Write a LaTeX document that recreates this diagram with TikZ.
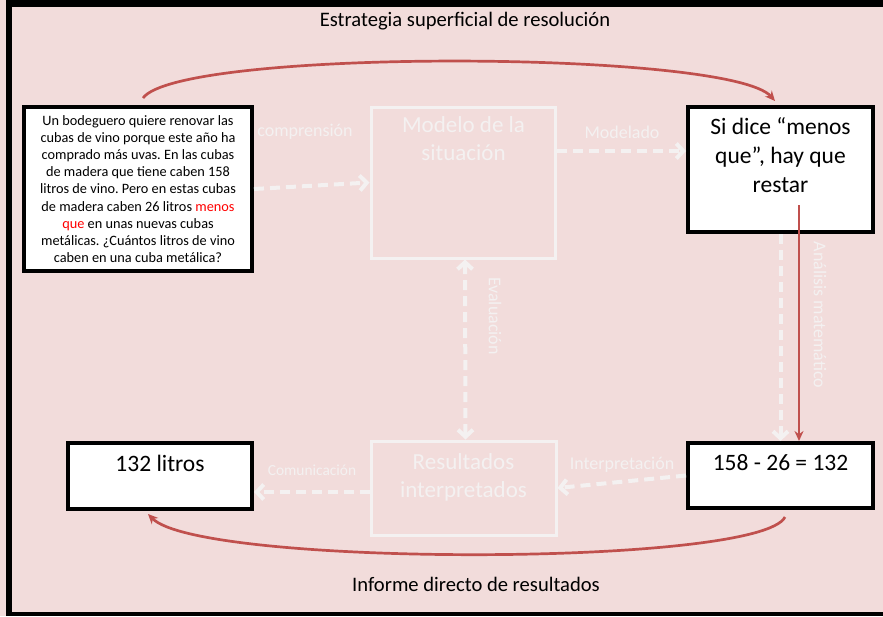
\documentclass[tikz,border=0pt]{standalone}
\usepackage{fontspec}
\setmainfont{Carlito}
\usetikzlibrary{arrows.meta}
\definecolor{bgpink}{HTML}{F2DCDB}
\definecolor{paleline}{HTML}{F4F1F1}
\definecolor{accentred}{HTML}{C0504D}
\definecolor{alertred}{HTML}{FF0000}
\frenchspacing
\begin{document}
\begin{tikzpicture}[x=1pt,y=-1pt,
  whitebox/.style={draw=black, line width=4pt, fill=white, inner sep=0pt},
  palebox/.style={draw=paleline, line width=3pt, inner sep=0pt},
  boxtext/.style={inner sep=0pt, align=center, font=\fontsize{23.5}{29}\selectfont},
  paletitle/.style={inner sep=0pt, align=center, text=paleline, font=\fontsize{23}{28}\selectfont},
  palelabel/.style={inner sep=0pt, text=paleline, font=\fontsize{18}{22}\selectfont},
  caption/.style={inner sep=0pt, font=\fontsize{20.6}{25}\selectfont},
  palearrow/.style={draw=paleline, line width=4pt, dash pattern=on 10pt off 6pt,
    -{Straight Barb[length=7pt,width=15pt]}},
  redarrow/.style={draw=accentred, line width=2.7pt, -{Stealth[length=10pt,width=9pt]}}
]
\useasboundingbox (0,0) rectangle (883,616);
% background and frame
\fill[bgpink] (0,0) rectangle (883,616);
\fill[black] (6,0) rectangle (883,7);
\fill[black] (6,0) rectangle (12,616);
\fill[black] (6,612) rectangle (883,616);

% captions
\node[caption] (title) at (465,21) {Estrategia superficial de resolución};
\node[caption] (report) at (476,584) {Informe directo de resultados};

% problem statement
\node[whitebox, minimum width=228pt, minimum height=164pt, align=center,
      font=\fontsize{14.3}{17.2}\selectfont] (prob) at (138,189)
  {Un bodeguero quiere renovar las\\
   cubas de vino porque este año ha\\
   comprado más uvas. En las cubas\\
   de madera que tiene caben 158\\
   litros de vino. Pero en estas cubas\\
   de madera caben 26 litros {\color{alertred}menos}\\
   {\color{alertred}que} en unas nuevas cubas\\
   metálicas. ¿Cuántos litros de vino\\
   caben en una cuba metálica?};

% pale modelling cycle boxes
\node[palebox, minimum width=184pt, minimum height=151pt] (model) at (463,182.5) {};
\node[paletitle] (modeltext) at (463.5,139) {Modelo de la\\situación};
\node[palebox, minimum width=185pt, minimum height=94pt] (results) at (463.5,488) {};
\node[paletitle] (resultstext) at (463.5,477) {Resultados\\interpretados};

% white boxes
\node[whitebox, minimum width=185pt, minimum height=125pt] (rule) at (780.5,169.5) {};
\node[boxtext] (ruletext) at (780.5,155) {Si dice “menos\\que”, hay que\\restar};
\node[whitebox, minimum width=185pt, minimum height=65pt] (calc) at (780.5,475.5) {};
\node[boxtext] (calctext) at (780.5,463) {158 - 26 = 132};
\node[whitebox, minimum width=184pt, minimum height=66pt] (answer) at (160,476) {};
\node[boxtext] (answertext) at (160,463) {132 litros};

% pale labels
\node[palelabel] (lcomp) at (305,132) {comprensión};
\node[palelabel] (lmod) at (622,132) {Modelado};
\node[palelabel] (linterp) at (622,465) {Interpretación};
\node[palelabel, font=\fontsize{15.4}{18}\selectfont] (lcomm) at (312,470) {Comunicación};
\node[palelabel, rotate=-90] (leval) at (495,316) {Evaluación};
\node[palelabel, rotate=-90] (lanal) at (820,315) {Análisis matemático};

% pale dashed connectors
\draw[palearrow] (prob.east) -- (model.west);
\draw[palearrow] ([yshift=31.5pt]model.east) -- ([yshift=31.5pt]model.east -| rule.west);
\draw[palearrow] (rule.south) -- (calc.north);
\draw[palearrow] (calc.west) -- (results.east);
\draw[palearrow] ([yshift=-4pt]results.west) -- ([yshift=-4pt]results.west -| answer.east);
\draw[palearrow, {Straight Barb[length=7pt,width=15pt]}-{Straight Barb[length=7pt,width=15pt]}]
  ([xshift=2pt]model.south) -- ([xshift=2pt]results.north);

% red shortcut path
\draw[redarrow] ([xshift=5pt,yshift=7pt]prob.north)
  .. controls (180,48) and (730,50) .. ([xshift=-5.5pt,yshift=4pt]rule.north);
\draw[redarrow] ([xshift=18.5pt,yshift=-35.5pt]rule.center) -- ([xshift=18.5pt]calc.north);
\draw[redarrow] ([xshift=4.5pt,yshift=-7pt]calc.south)
  .. controls (760,567) and (200,567) .. ([xshift=-12pt,yshift=-3pt]answer.south);
\end{tikzpicture}
\end{document}
